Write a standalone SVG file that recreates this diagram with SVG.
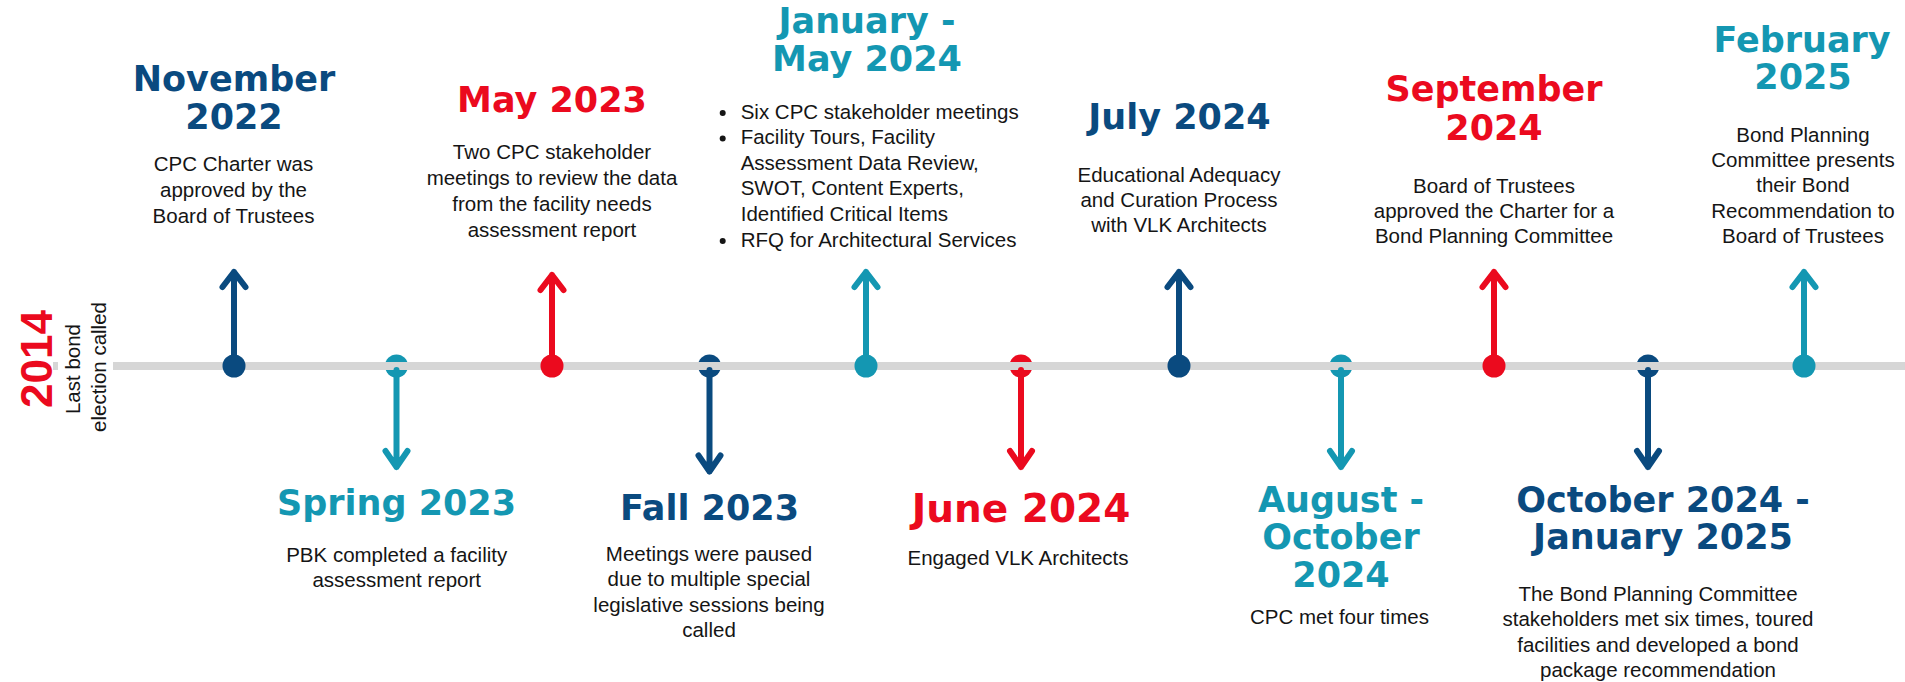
<svg xmlns="http://www.w3.org/2000/svg" width="1905" height="682" viewBox="0 0 1905 682">
<style>
.t{font-family:"DejaVu Sans",sans-serif;font-weight:700;font-size:35px;text-anchor:middle}
.b{font-family:"Liberation Sans",Arial,sans-serif;font-size:20.5px;fill:#151515;text-anchor:middle}
.l{font-family:"Liberation Sans",Arial,sans-serif;font-size:20.5px;fill:#151515}
.blue{fill:#0a4a7f}.red{fill:#eb0a1e}.teal{fill:#1497b2}
.sb{stroke:#0a4a7f}.sr{stroke:#eb0a1e}.st{stroke:#1497b2}
.ar{fill:none;stroke-width:6;stroke-linecap:round;stroke-linejoin:round}
</style>
<rect width="1905" height="682" fill="#ffffff"/>

<!-- nodes below the line (circles behind the timeline) -->
<g id="spring-2023">
<circle cx="396.5" cy="366" r="11.5" class="teal"/>
<text class="t teal" x="396.5" y="515">Spring 2023</text>
<text class="b" x="396.7" y="561.7">PBK completed a facility</text>
<text class="b" x="396.7" y="586.7">assessment report</text>
</g>
<g id="fall-2023">
<circle cx="709.5" cy="366" r="11.5" class="blue"/>
<text class="t blue" x="709.5" y="520">Fall 2023</text>
<text class="b" x="709" y="560.5">Meetings were paused</text>
<text class="b" x="709" y="586">due to multiple special</text>
<text class="b" x="709" y="611.6">legislative sessions being</text>
<text class="b" x="709" y="637.2">called</text>
</g>
<g id="june-2024">
<circle cx="1021" cy="366" r="11.5" class="red"/>
<text class="t red" x="1021" y="521.5" style="font-size:39px">June 2024</text>
<text class="b" x="1018" y="565">Engaged VLK Architects</text>
</g>
<g id="aug-oct-2024">
<circle cx="1341" cy="366" r="11.5" class="teal"/>
<text class="t teal" x="1341" y="511.5">August -</text>
<text class="t teal" x="1341" y="548.5">October</text>
<text class="t teal" x="1341" y="586.5">2024</text>
<text class="b" x="1339.5" y="623.5">CPC met four times</text>
</g>
<g id="oct-2024-jan-2025">
<circle cx="1648" cy="366" r="11.5" class="blue"/>
<text class="t blue" x="1663" y="511.5">October 2024 -</text>
<text class="t blue" x="1663" y="548.5">January 2025</text>
<text class="b" x="1658" y="600.5">The Bond Planning Committee</text>
<text class="b" x="1658" y="626">stakeholders met six times, toured</text>
<text class="b" x="1658" y="651.5">facilities and developed a bond</text>
<text class="b" x="1658" y="677">package recommendation</text>
</g>

<!-- timeline -->
<g id="timeline">
<line x1="53" y1="366" x2="1905" y2="366" stroke="#d6d6d6" stroke-width="8"/>
</g>

<g id="start-2014">
<rect x="58" y="355" width="55" height="22" fill="#ffffff"/>
<text transform="translate(52,359) rotate(-90)" text-anchor="middle" style="font-family:'Liberation Sans',Arial,sans-serif;font-weight:700;font-size:44px" class="red">2014</text>
<text transform="translate(80,369) rotate(-90)" class="b">Last bond</text>
<text transform="translate(106,367) rotate(-90)" class="b">election called</text>
</g>

<!-- connectors -->
<g id="connectors">
<path class="ar sb" d="M234 366V272M222.5 287L234 272L245.5 287"/>
<path class="ar st" d="M396.5 370V467M385.5 451L396.5 467L407.5 451"/>
<path class="ar sr" d="M552 366V275M540.5 290L552 275L563.5 290"/>
<path class="ar sb" d="M709.5 370V471.5M698.5 455.5L709.5 471.5L720.5 455.5"/>
<path class="ar st" d="M866 366V272M854.5 287L866 272L877.5 287"/>
<path class="ar sr" d="M1021 370V467M1010 451L1021 467L1032 451"/>
<path class="ar sb" d="M1179 366V272M1167.5 287L1179 272L1190.5 287"/>
<path class="ar st" d="M1341 370V467M1330 451L1341 467L1352 451"/>
<path class="ar sr" d="M1494 366V272M1482.5 287L1494 272L1505.5 287"/>
<path class="ar sb" d="M1648 370V467M1637 451L1648 467L1659 451"/>
<path class="ar st" d="M1804 366V272M1792.5 287L1804 272L1815.5 287"/>
</g>

<!-- nodes above the line -->
<g id="nov-2022">
<circle cx="234" cy="366" r="11.5" class="blue"/>
<text class="t blue" x="234" y="91">November</text>
<text class="t blue" x="234" y="128.5">2022</text>
<text class="b" x="233.5" y="170.7">CPC Charter was</text>
<text class="b" x="233.5" y="196.7">approved by the</text>
<text class="b" x="233.5" y="222.7">Board of Trustees</text>
</g>
<g id="may-2023">
<circle cx="552" cy="366" r="11.5" class="red"/>
<text class="t red" x="552" y="112">May 2023</text>
<text class="b" x="552" y="159">Two CPC stakeholder</text>
<text class="b" x="552" y="185">meetings to review the data</text>
<text class="b" x="552" y="211">from the facility needs</text>
<text class="b" x="552" y="237">assessment report</text>
</g>
<g id="jan-may-2024">
<circle cx="866" cy="366" r="11.5" class="teal"/>
<text class="t teal" x="867" y="33">January -</text>
<text class="t teal" x="867" y="71">May 2024</text>
<circle cx="722.7" cy="113" r="3" fill="#151515"/>
<circle cx="722.7" cy="138.6" r="3" fill="#151515"/>
<circle cx="722.7" cy="241" r="3" fill="#151515"/>
<text class="l" x="740.7" y="118.5">Six CPC stakeholder meetings</text>
<text class="l" x="740.7" y="144.1">Facility Tours, Facility</text>
<text class="l" x="740.7" y="169.7">Assessment Data Review,</text>
<text class="l" x="740.7" y="195.3">SWOT, Content Experts,</text>
<text class="l" x="740.7" y="220.9">Identified Critical Items</text>
<text class="l" x="740.7" y="246.5">RFQ for Architectural Services</text>
</g>
<g id="july-2024">
<circle cx="1179" cy="366" r="11.5" class="blue"/>
<text class="t blue" x="1179.5" y="128.5">July 2024</text>
<text class="b" x="1179" y="181.7">Educational Adequacy</text>
<text class="b" x="1179" y="206.7">and Curation Process</text>
<text class="b" x="1179" y="231.7">with VLK Architects</text>
</g>
<g id="sep-2024">
<circle cx="1494" cy="366" r="11.5" class="red"/>
<text class="t red" x="1494" y="101">September</text>
<text class="t red" x="1494" y="140">2024</text>
<text class="b" x="1494" y="192.7">Board of Trustees</text>
<text class="b" x="1494" y="218.3">approved the Charter for a</text>
<text class="b" x="1494" y="243.3">Bond Planning Committee</text>
</g>
<g id="feb-2025">
<circle cx="1804" cy="366" r="11.5" class="teal"/>
<text class="t teal" x="1802" y="52">February</text>
<text class="t teal" x="1803" y="89">2025</text>
<text class="b" x="1803" y="141.7">Bond Planning</text>
<text class="b" x="1803" y="167">Committee presents</text>
<text class="b" x="1803" y="192.2">their Bond</text>
<text class="b" x="1803" y="217.5">Recommendation to</text>
<text class="b" x="1803" y="242.7">Board of Trustees</text>
</g>
</svg>
